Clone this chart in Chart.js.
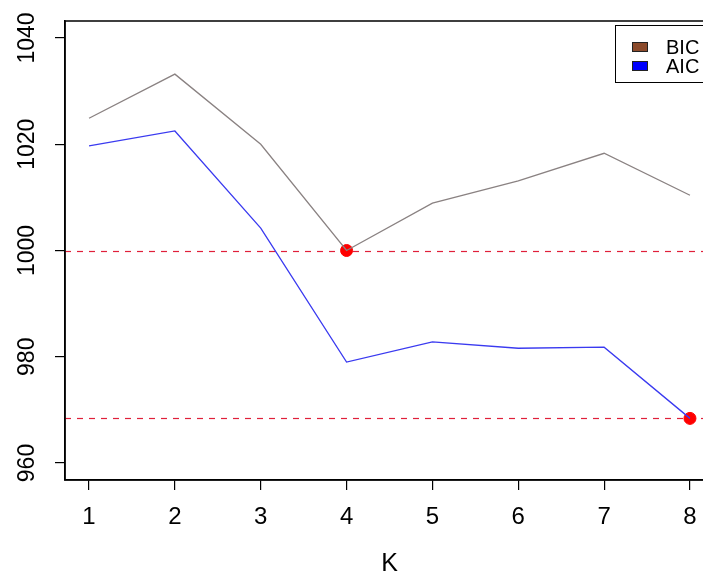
<!DOCTYPE html>
<html>
<head>
<meta charset="utf-8">
<script src="https://cdn.jsdelivr.net/npm/chart.js@4/dist/chart.umd.min.js"></script>
<style>
  html, body { margin: 0; padding: 0; background: #fff; overflow: hidden; }
  #wrap { width: 730px; height: 579px; }
</style>
</head>
<body>
<div id="wrap"><canvas id="myChart" width="730" height="579"></canvas></div>
<script>
// data
var K = [1, 2, 3, 4, 5, 6, 7, 8];
var bic = [1024.9, 1033.2, 1020.0, 1000.0, 1008.9, 1013.1, 1018.3, 1010.4];
var aic = [1019.7, 1022.5, 1004.2, 979.0, 982.8, 981.6, 981.8, 968.4];
var yTicks = [960, 980, 1000, 1020, 1040];
var legendNames = ['BIC', 'AIC'];
var legendColors = ['#8B4A2B', '#0000ff'];

var FONT = '"Liberation Sans", Arial, sans-serif';

// minimum of each curve -> red point + dashed line
var bicMin = Math.min.apply(null, bic);
var aicMin = Math.min.apply(null, aic);
var minPoints = [
  { x: K[bic.indexOf(bicMin)], y: bicMin },
  { x: K[aic.indexOf(aicMin)], y: aicMin }
];

var rPlotPlugin = {
  id: 'rPlot',
  beforeDatasetsDraw: function(chart) {
    var ctx = chart.ctx, a = chart.chartArea;
    var ys = chart.scales.y;
    ctx.save();
    ctx.strokeStyle = '#e0203a';
    ctx.lineWidth = 1.2;
    ctx.setLineDash([6, 6]);
    [bicMin, aicMin].forEach(function(v) {
      var py = Math.round(ys.getPixelForValue(v)) + 0.5;
      ctx.beginPath();
      ctx.moveTo(a.left, py);
      ctx.lineTo(a.right, py);
      ctx.stroke();
    });
    ctx.restore();
  },
  afterDraw: function(chart) {
    var ctx = chart.ctx, a = chart.chartArea;
    var ys = chart.scales.y;
    ctx.save();
    // box round the plot
    ctx.strokeStyle = '#000';
    ctx.lineWidth = 1.5;
    ctx.strokeRect(a.left, a.top, a.right - a.left, a.bottom - a.top);

    // y tick labels, rotated like R
    ctx.fillStyle = '#000';
    ctx.font = '23px ' + FONT;
    ctx.textAlign = 'center';
    ctx.textBaseline = 'middle';
    yTicks.forEach(function(v) {
      var py = ys.getPixelForValue(v);
      ctx.save();
      ctx.translate(28, py);
      ctx.rotate(-Math.PI / 2);
      ctx.fillText(String(v), 0, 0);
      ctx.restore();
    });

    // legend top right
    var lx = 615, ly = 25, rowH = 19;
    ctx.lineWidth = 1;
    ctx.fillStyle = '#fff';
    ctx.fillRect(lx, ly, 100, 58);
    ctx.strokeStyle = '#000';
    ctx.strokeRect(lx + 0.5, ly + 0.5, 100, 57);
    ctx.font = '20px ' + FONT;
    ctx.textAlign = 'left';
    legendNames.forEach(function(name, i) {
      var cy = ly + 22 + i * rowH;
      ctx.fillStyle = legendColors[i];
      ctx.fillRect(632, cy - 5, 16, 10);
      ctx.strokeStyle = '#222';
      ctx.strokeRect(632.5, cy - 4.5, 15, 9);
      ctx.fillStyle = '#000';
      ctx.fillText(name, 666, cy + 1);
    });
    ctx.restore();
  }
};

var ctx = document.getElementById('myChart').getContext('2d');
var myChart = new Chart(ctx, {
  type: 'line',
  data: {
    datasets: [
      {
        label: 'BIC',
        data: K.map(function(k, i) { return { x: k, y: bic[i] }; }),
        borderColor: '#8a8282',
        borderWidth: 1.3,
        pointRadius: 0,
        tension: 0
      },
      {
        label: 'AIC',
        data: K.map(function(k, i) { return { x: k, y: aic[i] }; }),
        borderColor: '#3a3af0',
        borderWidth: 1.3,
        pointRadius: 0,
        tension: 0
      },
      {
        label: 'min',
        data: minPoints,
        showLine: false,
        pointRadius: 6,
        pointBackgroundColor: '#ff0000',
        pointBorderColor: '#ff0000'
      }
    ]
  },
  options: {
    responsive: false,
    animation: false,
    layout: { padding: { top: 21, right: 16, left: 0, bottom: 0 } },
    plugins: {
      legend: { display: false },
      tooltip: { enabled: false }
    },
    scales: {
      x: {
        type: 'linear',
        min: 0.72,
        max: 8.28,
        afterBuildTicks: function(s) { s.ticks = K.map(function(v) { return { value: v }; }); },
        afterFit: function(s) { s.height = 99; },
        grid: { drawOnChartArea: false, tickLength: 10, color: '#000', lineWidth: 1.2 },
        border: { color: '#000', width: 1.5 },
        ticks: { color: '#000', font: { family: FONT, size: 24 }, padding: 13, maxRotation: 0 },
        title: { display: true, text: 'K', color: '#000', font: { family: FONT, size: 25 }, padding: { top: 0, bottom: 0 } }
      },
      y: {
        min: 956.8,
        max: 1043.2,
        afterBuildTicks: function(s) { s.ticks = yTicks.map(function(v) { return { value: v }; }); },
        afterFit: function(s) { s.width = 65; },
        grid: { drawOnChartArea: false, tickLength: 10, color: '#000', lineWidth: 1.2 },
        border: { color: '#000', width: 1.5 },
        ticks: { display: false }
      }
    }
  },
  plugins: [rPlotPlugin]
});
</script>
</body>
</html>
